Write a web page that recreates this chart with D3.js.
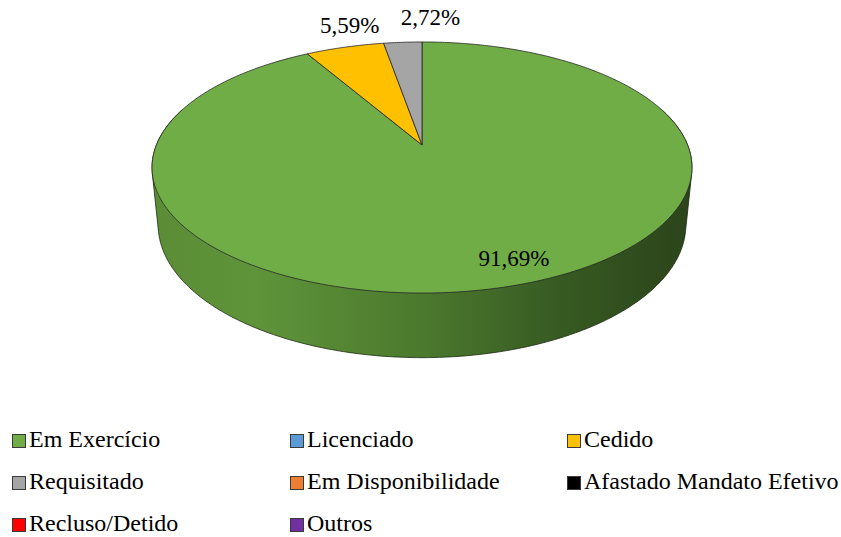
<!DOCTYPE html>
<html>
<head>
<meta charset="utf-8">
<script src="https://cdn.jsdelivr.net/npm/d3@7"></script>
<style>
  body { margin: 0; background: #fff; }
  svg { display: block; }
</style>
</head>
<body>
<svg id="chart" width="841" height="537"></svg>
<script>
// data
const categories = ['Em Exercício', 'Licenciado', 'Cedido', 'Requisitado',
    'Em Disponibilidade', 'Afastado Mandato Efetivo', 'Recluso/Detido', 'Outros'];
const values = [91.69, 0, 5.59, 2.72, 0, 0, 0, 0];
const colors = ['#70ad47', '#5b9bd5', '#ffc000', '#a5a5a5', '#ed7d31', '#000000', '#ff0000', '#7030a0'];

const FONT = "'Liberation Serif', 'Times New Roman', serif";
const svg = d3.select('#chart');

// 3d disc projection
const cx = 422, cy = 145;
const R = 265.6, thick = 65;
const phi = Math.asin(0.4575);
const D = 1317;

function proj(a, r, y) {
    const X = R * r * Math.sin(a);
    const Z = R * r * Math.cos(a);
    const ys = Z * Math.sin(phi) + y * Math.cos(phi);
    const depth = Z * Math.cos(phi) - y * Math.sin(phi);
    const f = D / (D + depth);
    return [cx + X * f, cy - ys * f];
}

const pie = d3.pie().sort(null).value(d => d.v).startAngle(0).endAngle(2 * Math.PI);
const arcs = pie(categories.map((c, i) => ({c, v: values[i], col: colors[i]})))
    .filter(d => d.data.v > 0);

const line = d3.line();

function rim(a0, a1, y) {
    const n = Math.max(2, Math.ceil((a1 - a0) / 0.01));
    return d3.range(n + 1).map(i => proj(a0 + (a1 - a0) * i / n, 1, y));
}

// side gradient
const defs = svg.append('defs');
const grad = defs.append('linearGradient').attr('id', 'side')
    .attr('gradientUnits', 'userSpaceOnUse')
    .attr('x1', cx - 275).attr('x2', cx + 275).attr('y1', 0).attr('y2', 0);
[[0, '#5a8c35'], [0.2, '#5f943a'], [0.5, '#4b792d'], [0.75, '#375a22'], [1, '#2b431a']]
    .forEach(s => grad.append('stop').attr('offset', s[0]).attr('stop-color', s[1]));

// walls: hull of top and bottom rim over the front part of each slice
const gWall = svg.append('g');
arcs.forEach(d => {
    const a0 = Math.max(d.startAngle, Math.PI * 0.4);
    const a1 = Math.min(d.endAngle, Math.PI * 1.6);
    if (a1 <= a0) return;
    const hull = d3.polygonHull(rim(a0, a1, 0).concat(rim(a0, a1, -thick)));
    gWall.append('path')
        .attr('d', line(hull) + 'Z')
        .attr('fill', 'url(#side)')
        .attr('stroke', '#1b2a12').attr('stroke-width', 0.8)
        .attr('stroke-linejoin', 'round');
});

// top faces
const gTop = svg.append('g');
arcs.forEach(d => {
    const pts = [proj(0, 0, 0)].concat(rim(d.startAngle, d.endAngle, 0));
    gTop.append('path')
        .attr('d', line(pts) + 'Z')
        .attr('fill', d.data.col)
        .attr('stroke', '#262626').attr('stroke-width', 0.8)
        .attr('stroke-linejoin', 'round');
});

// labels
const fmt = v => v.toFixed(2).replace('.', ',') + '%';
const labelPos = {
    'Em Exercício': {r: 0.86, da: -0.09, dx: 0, dy: 6, anchor: 'middle'},
    'Cedido': {r: 1.0, da: 0, dx: 5, dy: -14, anchor: 'middle'},
    'Requisitado': {r: 1.0, da: 0, dx: -2, dy: -17, anchor: 'start'}
};
arcs.forEach(d => {
    const lp = labelPos[d.data.c];
    const mid = (d.startAngle + d.endAngle) / 2 + lp.da;
    const p = proj(mid, lp.r, 0);
    svg.append('text')
        .attr('x', p[0] + lp.dx).attr('y', p[1] + lp.dy)
        .attr('text-anchor', lp.anchor)
        .style('font-family', FONT)
        .style('font-size', '23px')
        .text(fmt(d.data.v));
});

// legend
const colX = [12, 290, 567];
const rowY = [447, 489, 531];
const legend = svg.append('g');
categories.forEach((c, i) => {
    const x = colX[i % 3], y = rowY[Math.floor(i / 3)];
    legend.append('rect')
        .attr('x', x + 0.5).attr('y', y - 12.5)
        .attr('width', 13).attr('height', 13)
        .attr('fill', colors[i])
        .attr('stroke', '#3a3a3a').attr('stroke-width', 1);
    legend.append('text')
        .attr('x', x + 17).attr('y', y)
        .style('font-family', FONT)
        .style('font-size', '24px')
        .text(c);
});
</script>
</body>
</html>
